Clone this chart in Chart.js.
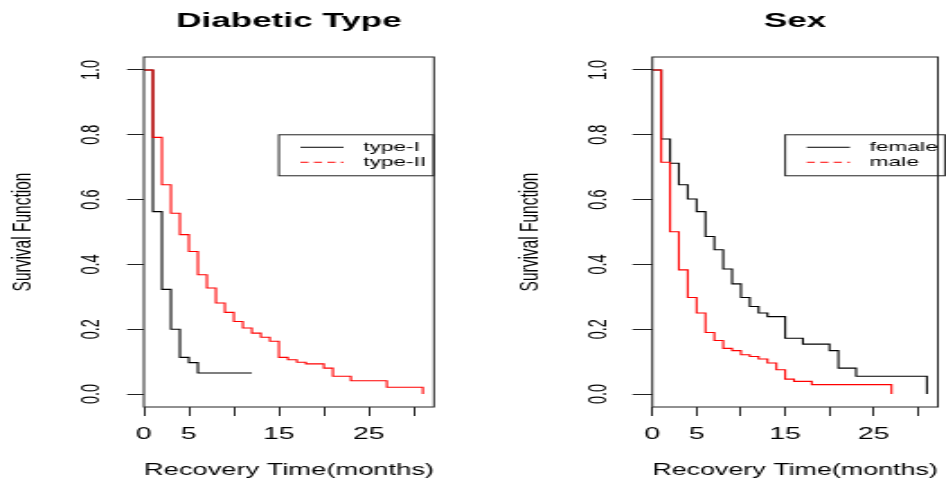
<!DOCTYPE html>
<html>
<head>
<meta charset="utf-8">
<script src="https://cdn.jsdelivr.net/npm/chart.js@4.4.0/dist/chart.umd.min.js"></script>
<style>
  html, body { margin: 0; padding: 0; background: #fff; overflow: hidden; }
  .panel { position: absolute; top: 0; width: 263px; height: 481px; transform-origin: 0 0; }
  #left { left: 0; }
  #right { left: 473px; }
</style>
</head>
<body>
<div class="panel" id="left"><canvas id="typeChart"></canvas></div>
<div class="panel" id="right"><canvas id="sexChart"></canvas></div>
<script>
// Kaplan-Meier estimates: recovery time (months) and survival function
const typeITime = [0, 1, 2, 3, 4, 5, 6, 12];
const typeISurv = [1, 0.563, 0.323, 0.2, 0.113, 0.097, 0.065, 0.065];
const typeIITime = [0, 1, 2, 3, 4, 5, 6, 7, 8, 9, 10, 11, 12, 13, 14, 15, 16, 17, 18, 20, 21, 23, 27, 31];
const typeIISurv = [1, 0.792, 0.646, 0.558, 0.492, 0.440, 0.368, 0.327, 0.281, 0.252, 0.224, 0.204, 0.188, 0.175, 0.163, 0.113, 0.106, 0.098, 0.093, 0.080, 0.055, 0.041, 0.021, 0];

const femaleTime = [0, 1, 2, 3, 4, 5, 6, 7, 8, 9, 10, 11, 12, 13, 15, 17, 20, 21, 23, 31];
const femaleSurv = [1, 0.787, 0.712, 0.646, 0.602, 0.563, 0.486, 0.445, 0.386, 0.340, 0.298, 0.270, 0.250, 0.239, 0.172, 0.154, 0.134, 0.080, 0.055, 0];
const maleTime = [0, 1, 2, 3, 4, 5, 6, 7, 8, 9, 10, 11, 12, 13, 14, 15, 16, 18, 27];
const maleSurv = [1, 0.715, 0.501, 0.383, 0.298, 0.250, 0.190, 0.165, 0.141, 0.134, 0.121, 0.116, 0.108, 0.096, 0.075, 0.046, 0.039, 0.029, 0];

const xTicks = [0, 5, 10, 15, 20, 25, 30];
const xTickLabels = ['0', '5', '', '15', '', '25', ''];
const yTicks = [0, 0.2, 0.4, 0.6, 0.8, 1.0];

const FONT = "'Liberation Sans', Arial, sans-serif";
const INK = '#222';

// the plot is drawn narrow and widened with css, like the original graphics device
const stretch = 473 / 263;
document.querySelectorAll('.panel').forEach(p => { p.style.transform = `scaleX(${stretch})`; });

const toPoints = (t, s) => t.map((v, i) => ({x: v, y: s[i]}));

// box round the plot region
const frame = {
  id: 'frame',
  afterDraw(chart) {
    const {ctx, chartArea: a} = chart;
    ctx.save();
    ctx.strokeStyle = INK;
    ctx.lineWidth = 1;
    ctx.strokeRect(a.left, a.top, a.right - a.left, a.bottom - a.top);
    ctx.restore();
  }
};

// boxed legend placed at a data position, line samples on the left
const boxLegend = {
  id: 'boxLegend',
  afterDatasetsDraw(chart, args, opts) {
    const {ctx, scales: {x, y}} = chart;
    const left = x.getPixelForValue(opts.at[0]);
    const top = y.getPixelForValue(opts.at[1]);
    const items = chart.data.datasets.map((ds, i) => ({text: ds.label, color: ds.borderColor, dash: opts.dash[i]}));
    ctx.save();
    ctx.font = `${opts.size}px ${FONT}`;
    const textW = Math.max(...items.map(it => ctx.measureText(it.text).width));
    const w = 47 + textW + 4, h = 41;
    ctx.fillStyle = '#fff';
    ctx.fillRect(left, top, w, h);
    ctx.strokeStyle = INK;
    ctx.lineWidth = 1;
    ctx.strokeRect(left, top, w, h);
    items.forEach((it, i) => {
      const yy = top + 12.5 + i * 15;
      ctx.strokeStyle = it.color;
      ctx.setLineDash(it.dash);
      ctx.beginPath();
      ctx.moveTo(left + 12, yy);
      ctx.lineTo(left + 36, yy);
      ctx.stroke();
      ctx.setLineDash([]);
      ctx.fillStyle = '#000';
      ctx.textBaseline = 'middle';
      ctx.fillText(it.text, left + 47, yy);
    });
    ctx.restore();
  }
};

function makePanel(id, p) {
  return new Chart(document.getElementById(id), {
    type: 'line',
    data: {
      datasets: p.series.map((s, i) => ({
        label: s.label,
        data: toPoints(s.time, s.surv),
        borderColor: s.color,
        borderWidth: 1.1,
        stepped: 'before',
        pointRadius: 0,
        order: i === 0 ? 1 : 0
      }))
    },
    options: {
      responsive: true,
      maintainAspectRatio: false,
      animation: false,
      layout: {padding: {left: 0, right: p.padRight, top: 0, bottom: 0}},
      plugins: {
        legend: {display: false},
        tooltip: {enabled: false},
        title: {
          display: true,
          text: p.title,
          color: '#000',
          fullSize: false,
          font: {family: FONT, size: 19.5, weight: 'bold'},
          padding: {top: 9.8, bottom: 23.8}
        },
        boxLegend: {at: [15, 0.8], size: 12.6, dash: [[], [4.5, 3]]}
      },
      scales: {
        x: {
          type: 'linear',
          min: 0,
          max: 32.24,
          afterBuildTicks: s => { s.ticks = xTicks.map(v => ({value: v})); },
          afterFit: s => { s.height = 74; },
          ticks: {
            autoSkip: false,
            maxRotation: 0,
            padding: 8.7,
            color: '#000',
            font: {family: FONT, size: 15.8},
            callback: v => xTickLabels[xTicks.indexOf(v)]
          },
          grid: {drawOnChartArea: false, drawTicks: true, tickLength: 9, color: INK},
          border: {display: false},
          title: {
            display: true,
            text: 'Recovery Time(months)',
            color: '#000',
            font: {family: FONT, size: 15.8},
            padding: {top: 0, bottom: 0.4}
          }
        },
        y: {
          min: -0.04,
          max: 1.04,
          afterBuildTicks: s => { s.ticks = yTicks.map(v => ({value: v})); },
          afterFit: s => { s.width = p.axisWidth; },
          ticks: {
            autoSkip: false,
            minRotation: 90,
            maxRotation: 90,
            crossAlign: 'center',
            padding: p.labelPad,
            color: '#000',
            font: {family: FONT, size: 14.5},
            callback: v => v.toFixed(1)
          },
          grid: {drawOnChartArea: false, drawTicks: true, tickLength: p.tickLen, color: INK},
          border: {display: false},
          title: {
            display: true,
            text: 'Survival Function',
            color: '#000',
            font: {family: FONT, size: 15.5},
            padding: {top: p.titlePad, bottom: 0}
          }
        }
      }
    },
    plugins: [frame, boxLegend]
  });
}

makePanel('typeChart', {
  title: 'Diabetic Type',
  series: [
    {label: 'type-I', time: typeITime, surv: typeISurv, color: '#000000'},
    {label: 'type-II', time: typeIITime, surv: typeIISurv, color: '#ff0000'}
  ],
  axisWidth: 80, padRight: 21.7, tickLen: 9.3, labelPad: 9.2, titlePad: 3.2
});

makePanel('sexChart', {
  title: 'Sex',
  series: [
    {label: 'female', time: femaleTime, surv: femaleSurv, color: '#000000'},
    {label: 'male', time: maleTime, surv: maleSurv, color: '#ff0000'}
  ],
  axisWidth: 99.7, padRight: 4.5, tickLen: 11, labelPad: 8.6, titlePad: 22.1
});
</script>
</body>
</html>
